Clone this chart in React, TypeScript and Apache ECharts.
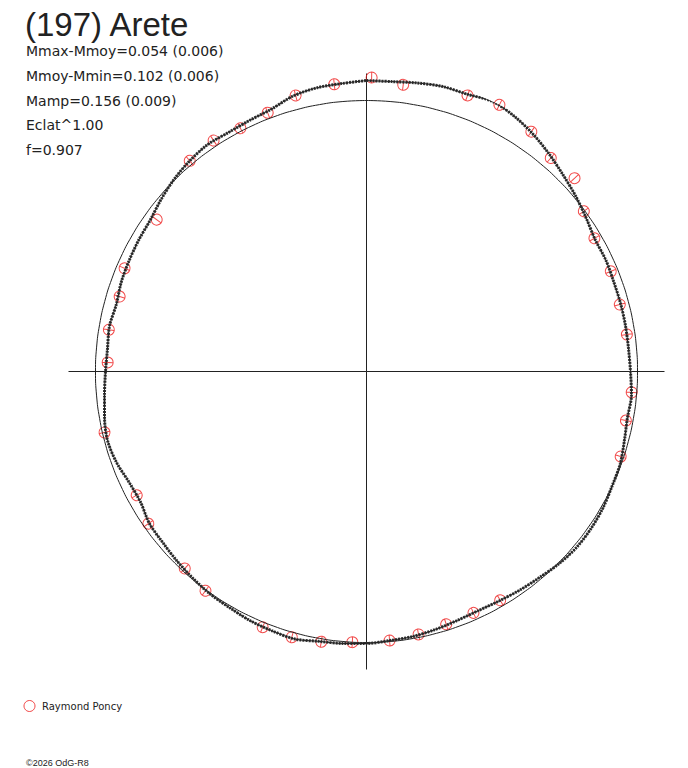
import React, { useEffect, useRef } from "react";
import * as echarts from "echarts";

// Title and parameter texts
const TITLE = "(197) Arete";
const INFO_LINES = [
  "Mmax-Mmoy=0.054 (0.006)",
  "Mmoy-Mmin=0.102 (0.006)",
  "Mamp=0.156 (0.009)",
  "Eclat^1.00",
  "f=0.907",
];
const OBSERVER = "Raymond Poncy";
const COPYRIGHT = "\u00a92026 OdG-R8";

// Fitted light-curve band: phase angle (deg, clockwise from top) and radius
const FIT_ANGLE = [
  0, 5, 10, 15, 20, 25, 30, 35, 40, 45, 50, 55, 60, 65, 70, 75, 80, 85, 90,
  95, 100, 105, 110, 115, 120, 125, 130, 135, 140, 145, 150, 155, 160, 165,
  170, 175, 180, 185, 190, 195, 200, 205, 210, 215, 220, 225, 230, 235, 240,
  245, 250, 255, 260, 265, 270, 275, 280, 285, 290, 295, 300, 305, 310, 315,
  320, 325, 330, 335, 340, 345, 350, 355, 360,
];
const FIT_RADIUS = [
  291, 291, 293, 295, 295, 298, 295, 290, 284, 278, 273, 268, 264, 264, 263,
  263, 263, 263, 264, 266, 265, 267, 270, 271, 273, 274, 274, 272, 269, 267,
  265, 264, 265, 267, 269, 270, 272, 273, 274, 277, 276, 275, 273, 272, 270,
  268, 266, 265, 261, 262, 266, 268, 266, 263, 261, 260, 261, 259, 261, 262,
  263, 264, 268, 272, 275, 277, 276, 277, 279, 285, 288, 289, 291,
];

// Reference (mean) circle radius, drawn at the fit's phase angles
const REF_RADIUS = 271;

// Observations (Raymond Poncy): phase angle (deg) and radius
const OBS_ANGLE = [
  1.0, 7.3, 353.6, 345.6, 339.1, 332.6, 326.5, 320.0, 305.9, 293.1, 286.9,
  279.2, 272.0, 256.9, 241.7, 235.1, 222.7, 216.3, 202.1, 195.7, 189.5, 183.0,
  175.1, 168.8, 162.5, 156.1, 149.7, 108.5, 100.7, 94.5, 81.9, 75.2, 67.7,
  59.7, 53.6, 47.1, 40.8, 34.5, 26.5, 20.1,
];
const OBS_RADIUS = [
  294, 289, 289, 285, 277, 274, 277, 275, 259, 263, 258, 261, 259, 269, 261,
  266, 268, 272, 276, 276, 274, 271, 270, 268, 265, 264, 265, 268, 264, 266,
  263, 262, 264, 264, 270, 284, 282, 291, 298, 294,
];

const AXIS_RADIUS = 298;
const RED = "#ee1c1c";
const INK = "#222222";

const MARKER_PATH =
  "path://M0,10 A10,10 0 1 1 20,10 A10,10 0 1 1 0,10 Z M10,1 L10,19";

export default function App() {
  const ref = useRef<HTMLDivElement>(null);

  useEffect(() => {
    if (!ref.current) return;
    const chart = echarts.init(ref.current, null, { renderer: "svg" });

    const fitData = FIT_ANGLE.map((a, i) => [FIT_RADIUS[i], a]);
    const refData = FIT_ANGLE.map((a) => [REF_RADIUS, a]);
    const obsData = OBS_ANGLE.map((a, i) => ({
      value: [OBS_RADIUS[i], a],
      symbolRotate: -a,
    }));

    const infoGraphics = INFO_LINES.map((t, i) => ({
      type: "text",
      x: 26,
      y: 51 + i * 24.8,
      style: {
        text: t,
        font: '14px "DejaVu Sans", sans-serif',
        fill: INK,
        verticalAlign: "middle",
      },
    }));

    chart.setOption({
      animation: false,
      backgroundColor: "#ffffff",
      polar: { center: [366.5, 371.5], radius: AXIS_RADIUS },
      angleAxis: {
        type: "value",
        min: 0,
        max: 360,
        interval: 90,
        startAngle: 90,
        clockwise: true,
        axisLine: { show: false },
        axisTick: { show: false },
        axisLabel: { show: false },
        splitLine: { show: true, lineStyle: { color: INK, width: 1 } },
      },
      radiusAxis: {
        type: "value",
        min: 0,
        max: AXIS_RADIUS,
        axisLine: { show: false },
        axisTick: { show: false },
        axisLabel: { show: false },
        splitLine: { show: false },
      },
      legend: {
        data: [OBSERVER],
        left: 23.5,
        top: 700,
        padding: 0,
        icon: "circle",
        itemWidth: 11,
        itemHeight: 11,
        itemStyle: {
          color: "rgba(0,0,0,0)",
          borderColor: RED,
          borderWidth: 1,
        },
        textStyle: {
          fontFamily: '"DejaVu Sans", sans-serif',
          fontSize: 10,
          color: INK,
          padding: [0, 0, 0, 2],
        },
      },
      graphic: [
        {
          type: "text",
          x: 25,
          y: 24,
          style: {
            text: TITLE,
            font: '33px "Liberation Sans", Arial, sans-serif',
            fill: INK,
            verticalAlign: "middle",
          },
        },
        ...infoGraphics,
        {
          type: "text",
          x: 26,
          y: 762.5,
          style: {
            text: COPYRIGHT,
            font: '9px "Liberation Sans", Arial, sans-serif',
            fill: INK,
            verticalAlign: "middle",
          },
        },
      ],
      series: [
        {
          name: OBSERVER,
          type: "scatter",
          coordinateSystem: "polar",
          symbol: MARKER_PATH,
          symbolSize: 11,
          itemStyle: {
            color: "rgba(0,0,0,0)",
            borderColor: RED,
            borderWidth: 1,
          },
          data: obsData,
          z: 2,
        },
        {
          name: "Mean",
          type: "line",
          coordinateSystem: "polar",
          smooth: 0.5,
          showSymbol: false,
          lineStyle: { color: INK, width: 1 },
          data: refData,
          z: 3,
        },
        {
          name: "Fit",
          type: "line",
          coordinateSystem: "polar",
          smooth: 0.3,
          showSymbol: false,
          lineStyle: { color: "#333", width: 3, type: [2, 1] },
          data: fitData,
          z: 3,
        },
        {
          name: "Fit core",
          type: "line",
          coordinateSystem: "polar",
          smooth: 0.3,
          showSymbol: false,
          lineStyle: { color: INK, width: 1 },
          data: fitData,
          z: 4,
        },
      ],
    });

    return () => chart.dispose();
  }, []);

  return (
    <div
      ref={ref}
      style={{ position: "fixed", left: 0, top: 0, width: 688, height: 768 }}
    />
  );
}
